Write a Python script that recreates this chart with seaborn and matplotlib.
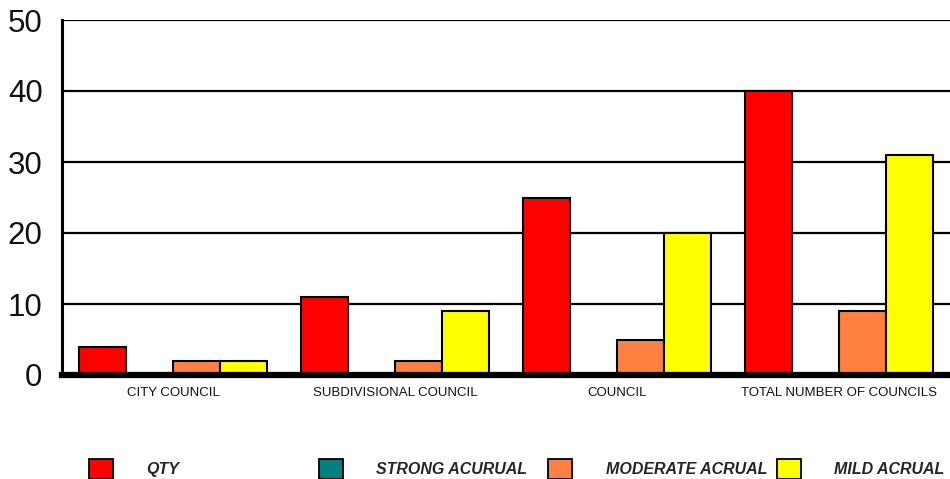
import matplotlib
matplotlib.use("Agg")
import matplotlib.pyplot as plt
import matplotlib.patches as mpatches
import pandas as pd
import seaborn as sns

categories = ["CITY COUNCIL", "SUBDIVISIONAL COUNCIL", "COUNCIL", "TOTAL NUMBER OF COUNCILS"]
series = ["QTY", "STRONG ACURUAL", "MODERATE ACRUAL", "MILD ACRUAL"]
qty = [4, 11, 25, 40]
strong = [0, 0, 0, 0]
moderate = [2, 2, 5, 9]
mild = [2, 9, 20, 31]
colors = ["#FF0000", "#008080", "#FF8040", "#FFFF00"]
yticks = [0, 10, 20, 30, 40, 50]


def main():
    sns.set_theme(style="white")
    plt.rcParams["font.family"] = ["Liberation Sans", "DejaVu Sans"]

    rows = []
    for name, vals in zip(series, [qty, strong, moderate, mild]):
        for cat, v in zip(categories, vals):
            rows.append({"category": cat, "series": name, "value": v})
    df = pd.DataFrame(rows)

    fig = plt.figure(figsize=(9.5, 4.79), dpi=100)
    ax = fig.add_axes([62 / 950, 104 / 479, 1 - 62 / 950, 355 / 479])

    sns.barplot(
        data=df, x="category", y="value", hue="series",
        order=categories, hue_order=series, palette=colors,
        saturation=1, width=0.85, edgecolor="black", linewidth=1.5,
        legend=False, ax=ax,
    )

    ax.set_ylim(0, 50)
    ax.set_xlim(-0.5, 3.5)
    ax.set_yticks(yticks)
    ax.yaxis.grid(True, color="black", linewidth=1.6)
    ax.set_axisbelow(True)
    ax.set_xlabel("")
    ax.set_ylabel("")
    ax.tick_params(axis="y", labelsize=22.5, length=0, pad=14, labelcolor="#111111")
    ax.tick_params(axis="x", labelsize=9.5, length=0, pad=9, labelcolor="#111111")

    for s in ["top", "right"]:
        ax.spines[s].set_visible(False)
    ax.spines["left"].set_color("black")
    ax.spines["left"].set_linewidth(2.2)
    ax.spines["bottom"].set_color("black")
    ax.spines["bottom"].set_linewidth(4.5)
    ax.spines["bottom"].set_zorder(5)

    legend_x = [89, 319, 548, 777]
    for name, col, x0 in zip(series, colors, legend_x):
        h = mpatches.Patch(facecolor=col, edgecolor="black", linewidth=1.3, label=name)
        fig.legend(
            handles=[h], loc="center left", bbox_to_anchor=(x0 / 950, 10 / 479),
            frameon=False, borderpad=0, borderaxespad=0,
            handlelength=1.5, handleheight=1.5, handletextpad=2.1,
            prop={"size": 11.5, "weight": "bold", "style": "italic"},
        )

    plt.savefig("out.png", dpi=100)


if __name__ == "__main__":
    main()
